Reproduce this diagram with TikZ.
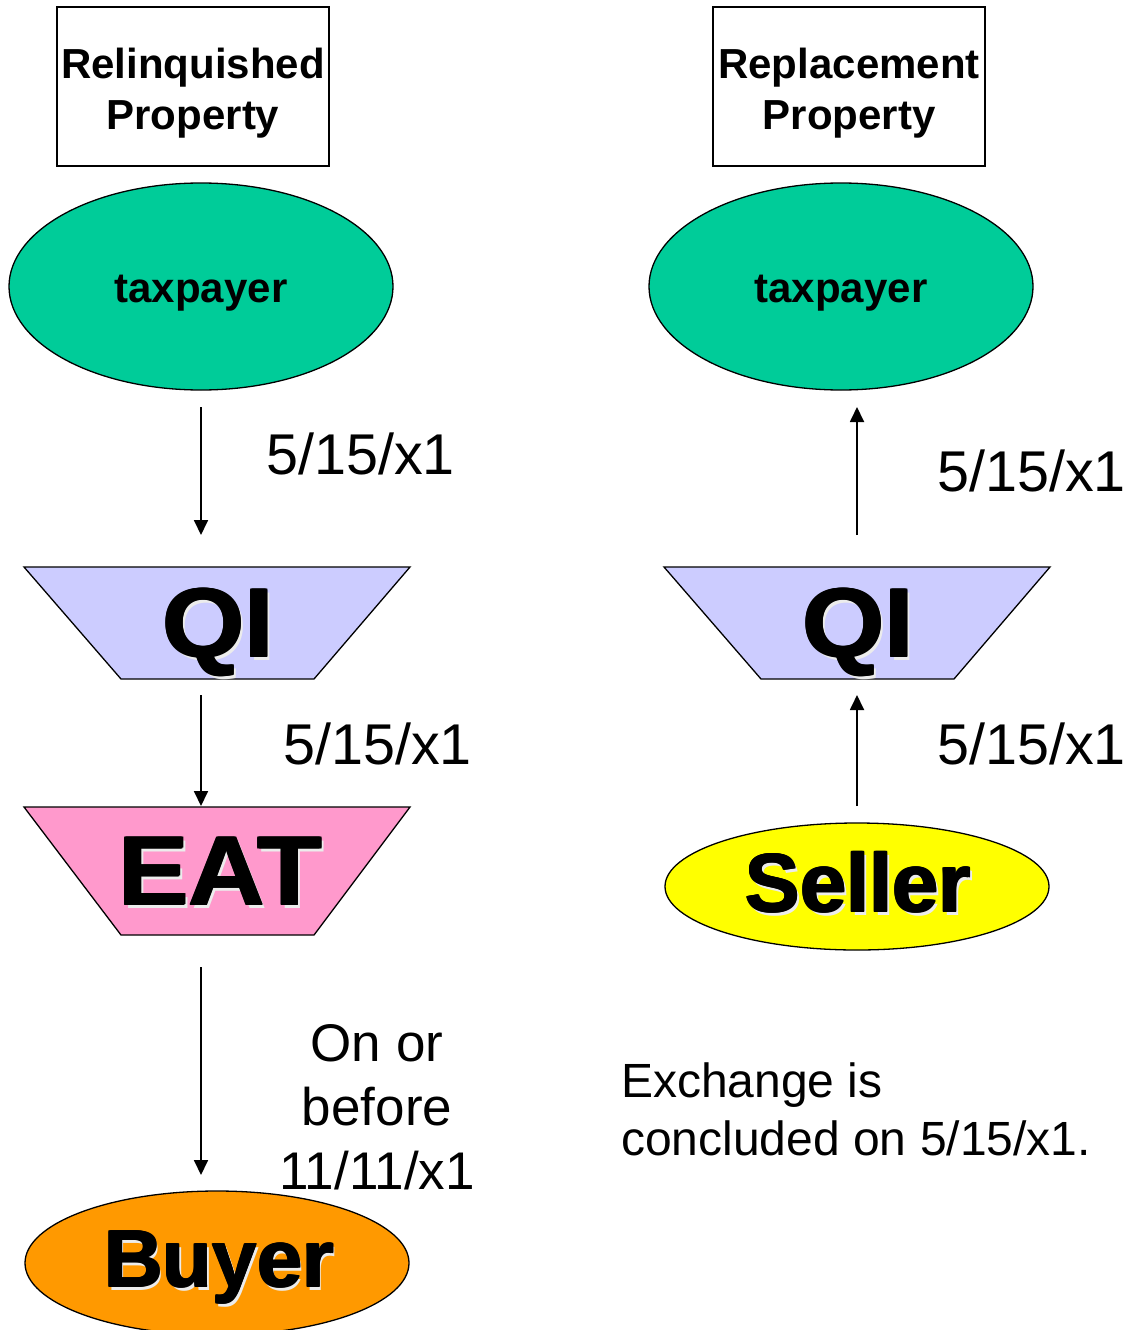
\documentclass[tikz,border=0pt]{standalone}
\usepackage{fontspec}
\usepackage{graphicx}
\setmainfont{Liberation Sans}
\usetikzlibrary{shapes.geometric,arrows.meta}
\definecolor{tpgreen}{HTML}{00CC99}
\definecolor{qiblue}{HTML}{CCCCFF}
\definecolor{eatpink}{HTML}{FF99CC}
\definecolor{buyorange}{HTML}{FF9900}
\definecolor{sellyellow}{HTML}{FFFF00}
% heavy lettering with a soft light edge to the lower right
\newcommand\heavyword[1]{%
  \makebox[0pt][l]{\kern3.5pt\raisebox{-3.5pt}{\textcolor{white!85!gray}{#1}}}%
  \makebox[0pt][l]{\kern1.6pt #1}%
  \makebox[0pt][l]{\raisebox{0.9pt}{#1}}%
  \makebox[0pt][l]{\kern1.6pt\raisebox{0.9pt}{#1}}%
  \makebox[0pt][l]{\kern0.8pt\raisebox{0.45pt}{#1}}%
  #1\kern1.6pt}
\tikzset{
  lbl/.style={anchor=base, inner sep=0pt, font=\fontsize{42}{50}\selectfont\bfseries, align=center},
  title/.style={draw=black, line width=1.3pt, fill=white},
  oval/.style={draw=black, line width=1.3pt, ellipse, minimum width=384pt, inner sep=0pt},
  trap/.style={draw=black, line width=1.3pt},
  date/.style={anchor=base west, inner sep=0pt, font=\fontsize{57.5}{64}\selectfont},
  big/.style={anchor=base, inner sep=0pt, font=\fontsize{98}{100}\selectfont\bfseries},
  arr/.style={line width=1.8pt, -{Triangle[length=15pt,width=14pt]}},
}
\begin{document}
\begin{tikzpicture}[x=1pt,y=-1pt]
\useasboundingbox (0,0) rectangle (1136,1330);

% ---- title boxes
\draw[title] (57,7) rectangle (329,166);
\node[lbl] (rel1) at (193,78) {Relinquished};
\node[lbl] (rel2) at (193,129) {Property};
\draw[title] (713,7) rectangle (985,166);
\node[lbl] (rep1) at (849,78) {Replacement};
\node[lbl] (rep2) at (849,129) {Property};

% ---- taxpayers
\node[oval, fill=tpgreen, minimum height=207pt] (tpL) at (201,286.5) {};
\node[lbl] (tpLt) at (201,302) {taxpayer};
\node[oval, fill=tpgreen, minimum height=207pt] (tpR) at (841,286.5) {};
\node[lbl] (tpRt) at (841,302) {taxpayer};

% ---- QI trapezoids
\draw[trap, fill=qiblue] (24,567) -- (410,567) -- (314,679) -- (121,679) -- cycle;
\node[big] (qiL) at (218,657) {\scalebox{1.08}[1]{\heavyword{QI}}};
\draw[trap, fill=qiblue] (664,567) -- (1050,567) -- (954,679) -- (761,679) -- cycle;
\node[big] (qiR) at (858,657) {\scalebox{1.08}[1]{\heavyword{QI}}};

% ---- EAT trapezoid
\draw[trap, fill=eatpink] (24,807) -- (410,807) -- (314,935) -- (121,935) -- cycle;
\node[big] (eat) at (220,905) {\scalebox{1.08}[1]{\heavyword{EAT}}};

% ---- Buyer and Seller
\node[oval, fill=buyorange, minimum height=144pt] (buyer) at (217,1263) {};
\node[big, font=\fontsize{81}{90}\selectfont\bfseries] (buyert) at (219,1287) {\heavyword{Buyer}};
\node[oval, fill=sellyellow, minimum height=127pt] (seller) at (857,886.5) {};
\node[big, font=\fontsize{83}{90}\selectfont\bfseries] (sellert) at (858,912) {\heavyword{Seller}};

% ---- connector end points
\coordinate (l1a) at (201,407);  \coordinate (l1b) at (201,535);
\coordinate (l2a) at (201,695);  \coordinate (l2b) at (201,806);
\coordinate (l3a) at (201,967);  \coordinate (l3b) at (201,1175);
\coordinate (r1a) at (857,806);  \coordinate (r1b) at (857,695);
\coordinate (r2a) at (857,535);  \coordinate (r2b) at (857,407);

\draw[arr] (l1a) -- (l1b);
\draw[arr] (l2a) -- (l2b);
\draw[arr] (l3a) -- (l3b);
\draw[arr] (r1a) -- (r1b);
\draw[arr] (r2a) -- (r2b);

% ---- dates
\node[date] (d1) at (266,474) {5/15/x1};
\node[date] (d2) at (283,764) {5/15/x1};
\node[date] (d3) at (937,491) {5/15/x1};
\node[date] (d4) at (937,764) {5/15/x1};
\node[anchor=base, inner sep=0pt, font=\fontsize{53}{64}\selectfont] (w1) at (377,1061) {On or};
\node[anchor=base, inner sep=0pt, font=\fontsize{53}{64}\selectfont] (w2) at (377,1125) {before};
\node[anchor=base, inner sep=0pt, font=\fontsize{53}{64}\selectfont] (w3) at (377,1189) {11/11/x1};

% ---- note
\node[anchor=base west, inner sep=0pt, font=\fontsize{48}{58}\selectfont] (n1) at (621,1097) {Exchange is};
\node[anchor=base west, inner sep=0pt, font=\fontsize{48}{58}\selectfont] (n2) at (621,1155) {concluded on 5/15/x1.};
\end{tikzpicture}
\end{document}
